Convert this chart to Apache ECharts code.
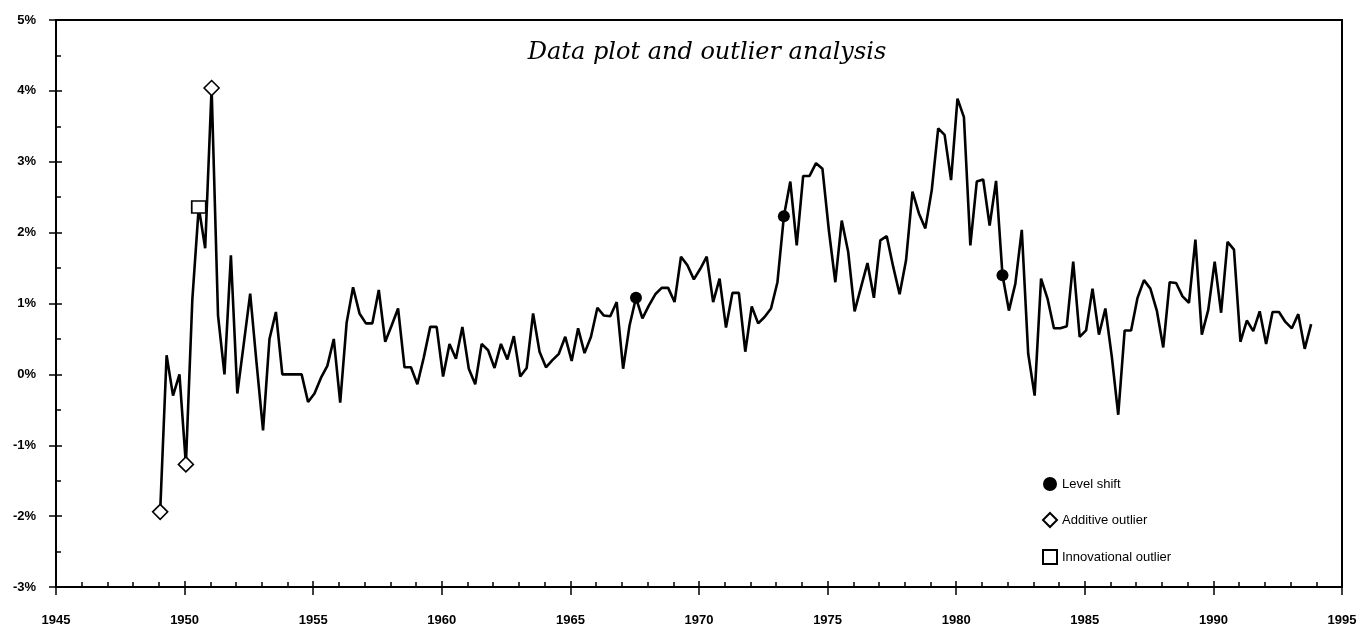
<!DOCTYPE html>
<html>
<head>
<meta charset="utf-8">
<script src="https://cdn.jsdelivr.net/npm/echarts@6/dist/echarts.min.js"></script>
<style>
  html, body { margin: 0; padding: 0; background: #fff; }
  #main { width: 1361px; height: 631px; }
</style>
</head>
<body>
<div id="main"></div>
<script>
// quarterly values (%), first quarter of 1949 onwards
var rate1949 = [-1.94, 0.27, -0.30, 0.00, -1.27, 1.05, 2.36, 1.78, 4.04, 0.83,
                0.00, 1.68, -0.27, 0.43, 1.14, 0.15, -0.79, 0.50, 0.88, 0.00,
                0.00, 0.00, 0.00, -0.39, -0.27, -0.05, 0.12, 0.50, -0.40, 0.73,
                1.23, 0.86, 0.72, 0.72, 1.19, 0.46, 0.69, 0.93, 0.10, 0.10];
var rate1959 = [-0.14, 0.24, 0.67, 0.67, -0.03, 0.43, 0.22, 0.67, 0.08, -0.14,
                0.43, 0.34, 0.09, 0.43, 0.21, 0.54, -0.03, 0.09, 0.86, 0.32,
                0.10, 0.20, 0.29, 0.53, 0.19, 0.65, 0.30, 0.53, 0.94, 0.83,
                0.82, 1.02, 0.08, 0.69, 1.08, 0.79, 0.97, 1.13, 1.22, 1.22];
var rate1969 = [1.02, 1.66, 1.54, 1.34, 1.49, 1.66, 1.02, 1.35, 0.66, 1.15,
                1.15, 0.32, 0.96, 0.72, 0.81, 0.93, 1.30, 2.23, 2.72, 1.82,
                2.80, 2.80, 2.98, 2.90, 2.03, 1.30, 2.17, 1.73, 0.89, 1.23,
                1.57, 1.08, 1.89, 1.95, 1.52, 1.13, 1.61, 2.58, 2.27, 2.06];
var rate1979 = [2.60, 3.47, 3.38, 2.74, 3.89, 3.63, 1.82, 2.72, 2.75, 2.10,
                2.73, 1.40, 0.90, 1.28, 2.04, 0.29, -0.30, 1.35, 1.07, 0.65,
                0.65, 0.68, 1.59, 0.53, 0.62, 1.21, 0.56, 0.93, 0.25, -0.57,
                0.62, 0.62, 1.08, 1.33, 1.21, 0.90, 0.38, 1.30, 1.29, 1.10];
var rate1989 = [1.01, 1.90, 0.56, 0.91, 1.59, 0.87, 1.87, 1.76, 0.46, 0.76,
                0.61, 0.89, 0.43, 0.88, 0.88, 0.74, 0.65, 0.85, 0.36, 0.71];

// positions of the flagged quarters in the series
var levelShiftIdx = [74, 97, 131];
var additiveIdx = [0, 4, 8];
var innovationalIdx = [6];

var startYear = 1949;
var yearTicks = ['1945', '1950', '1955', '1960', '1965', '1970', '1975', '1980', '1985', '1990', '1995'];

var rate = rate1949.concat(rate1959, rate1969, rate1979, rate1989);
var points = rate.map(function (v, i) { return [startYear + i / 4 + 0.05, v]; });
function pick(idx) { return idx.map(function (i) { return points[i]; }); }

var font = 'Liberation Sans';
var myChart = echarts.init(document.getElementById('main'));

var option = {
    animation: false,
    backgroundColor: '#fff',
    title: {
        text: 'Data plot and outlier analysis',
        left: 702,
        top: 36,
        textAlign: 'center',
        textStyle: {
            fontFamily: 'DejaVu Serif',
            fontStyle: 'italic',
            fontWeight: 'normal',
            fontSize: 24,
            color: '#000'
        }
    },
    legend: {
        data: ['Level shift', 'Additive outlier', 'Innovational outlier'],
        orient: 'vertical',
        left: 1037,
        top: 472,
        itemGap: 21,
        itemWidth: 14,
        itemHeight: 14,
        textStyle: { fontFamily: font, fontSize: 13, color: '#000' }
    },
    grid: {
        left: 56,
        right: 19,
        top: 20,
        bottom: 44,
        show: true,
        borderColor: '#000',
        borderWidth: 2
    },
    xAxis: [
        {
            type: 'value',
            position: 'bottom',
            min: 1945,
            max: 1995,
            interval: 5,
            axisLine: { onZero: false, lineStyle: { color: '#000', width: 2 } },
            axisTick: { inside: false, length: 8, lineStyle: { color: '#000', width: 1.5 } },
            axisLabel: {
                margin: 27,
                color: '#000',
                fontFamily: font,
                fontWeight: 'bold',
                fontSize: 13,
                formatter: function (v) { return yearTicks[(v - 1945) / 5]; }
            },
            splitLine: { show: false }
        },
        {
            type: 'value',
            position: 'bottom',
            min: 1945,
            max: 1995,
            interval: 5,
            axisLine: { show: false, onZero: false },
            axisTick: { inside: true, length: 6, lineStyle: { color: '#000', width: 1.5 } },
            minorTick: { show: true, splitNumber: 5, length: 5, lineStyle: { color: '#000', width: 1.5 } },
            axisLabel: { show: false },
            splitLine: { show: false }
        }
    ],
    yAxis: [
        {
            type: 'value',
            position: 'left',
            min: -3,
            max: 5,
            interval: 1,
            axisLine: { show: true, onZero: false, lineStyle: { color: '#000', width: 2 } },
            axisTick: { show: true, inside: false, length: 7, lineStyle: { color: '#000', width: 1.5 } },
            axisLabel: {
                margin: 20,
                color: '#000',
                fontFamily: font,
                fontWeight: 'bold',
                fontSize: 13,
                formatter: '{value}%'
            },
            splitLine: { show: false }
        },
        {
            type: 'value',
            position: 'left',
            min: -3,
            max: 5,
            interval: 1,
            axisLine: { show: false, onZero: false },
            axisTick: { show: true, inside: true, length: 6, lineStyle: { color: '#000', width: 1.5 } },
            minorTick: { show: true, splitNumber: 2, length: 5, lineStyle: { color: '#000', width: 1.5 } },
            axisLabel: { show: false },
            splitLine: { show: false }
        }
    ],
    series: [
        {
            name: 'rate',
            type: 'line',
            data: points,
            showSymbol: false,
            lineStyle: { color: '#000', width: 2.6 },
            z: 2
        },
        {
            name: 'Level shift',
            type: 'scatter',
            data: pick(levelShiftIdx),
            symbol: 'circle',
            symbolSize: 12,
            itemStyle: { color: '#000', opacity: 1 },
            z: 3
        },
        {
            name: 'Additive outlier',
            type: 'scatter',
            data: pick(additiveIdx),
            symbol: 'diamond',
            symbolSize: [15, 15],
            itemStyle: { color: '#fff', borderColor: '#000', borderWidth: 1.6, opacity: 1 },
            z: 3
        },
        {
            name: 'Innovational outlier',
            type: 'scatter',
            data: pick(innovationalIdx),
            symbol: 'rect',
            symbolSize: [14, 12],
            itemStyle: { color: '#fff', borderColor: '#000', borderWidth: 1.6, opacity: 1 },
            z: 3
        }
    ]
};

myChart.setOption(option);
</script>
</body>
</html>
